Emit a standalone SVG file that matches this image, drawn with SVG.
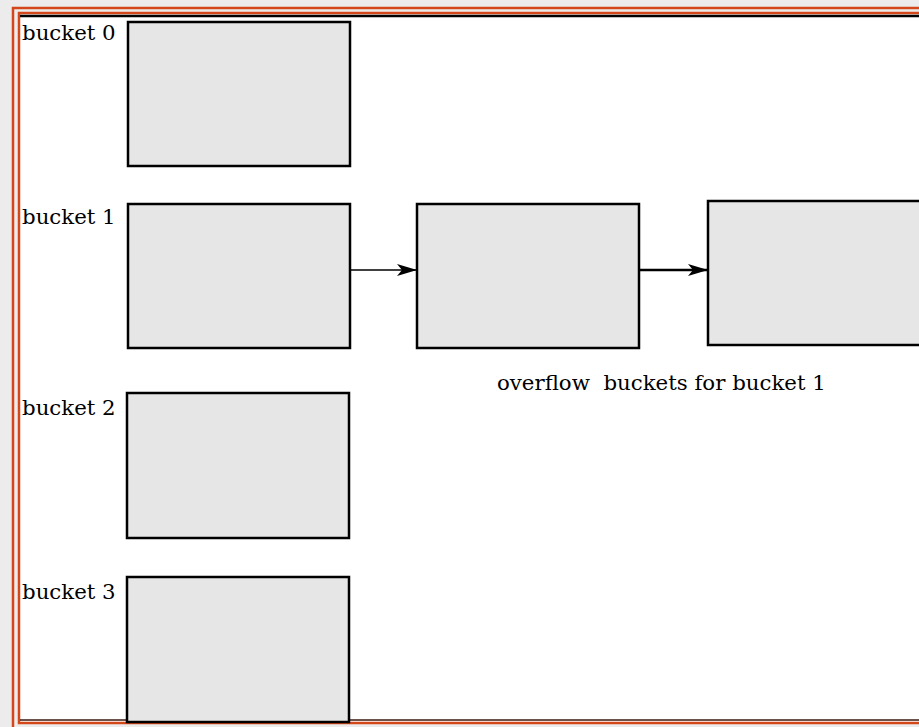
<svg xmlns="http://www.w3.org/2000/svg" width="919" height="727" viewBox="0 0 919 727">
<defs>
<marker id="ah" markerWidth="20" markerHeight="12" refX="20" refY="6" orient="auto" markerUnits="userSpaceOnUse">
<path d="M0,0 L20,6 L0,12 L5,6 Z" fill="#000"/>
</marker>
</defs>
<style>
.box{fill:#e6e6e6;stroke:#000;stroke-width:2.5}
.lbl{font-family:"DejaVu Serif",serif;font-size:21.3px;fill:#000}
.conn{stroke:#000;fill:none}
</style>
<rect x="0" y="0" width="919" height="727" fill="#ececec"/>
<rect x="13" y="8" width="920" height="730" fill="none" stroke="#d4471a" stroke-width="2.5"/>
<rect x="19" y="13" width="920" height="710" fill="#fff" stroke="#d4471a" stroke-width="2.5"/>
<line x1="20" y1="16" x2="919" y2="16" stroke="#000" stroke-width="2.5"/>
<line x1="20" y1="720" x2="919" y2="720" stroke="#3a1a10" stroke-width="1.5"/>
<g id="bucket0">
<rect class="box" x="128" y="22" width="222" height="144"/>
<text class="lbl" x="22" y="40">bucket 0</text>
</g>
<g id="bucket1">
<rect class="box" x="128" y="204" width="222" height="144"/>
<text class="lbl" x="22" y="224">bucket 1</text>
</g>
<g id="overflow1">
<rect class="box" x="417" y="204" width="222" height="144"/>
</g>
<g id="overflow2">
<rect class="box" x="708" y="201" width="222" height="144"/>
</g>
<g id="bucket2">
<rect class="box" x="127" y="393" width="222" height="145"/>
<text class="lbl" x="22" y="415">bucket 2</text>
</g>
<g id="bucket3">
<rect class="box" x="127" y="577" width="222" height="145"/>
<text class="lbl" x="22" y="599">bucket 3</text>
</g>
<g id="caption">
<text class="lbl" x="497" y="390" xml:space="preserve" style="white-space:pre">overflow  buckets for bucket 1</text>
</g>
<g id="connectors">
<line class="conn" x1="350" y1="270" x2="417" y2="270" stroke-width="1.5" marker-end="url(#ah)"/>
<line class="conn" x1="639" y1="270" x2="708" y2="270" stroke-width="2.5" marker-end="url(#ah)"/>
</g>
</svg>
